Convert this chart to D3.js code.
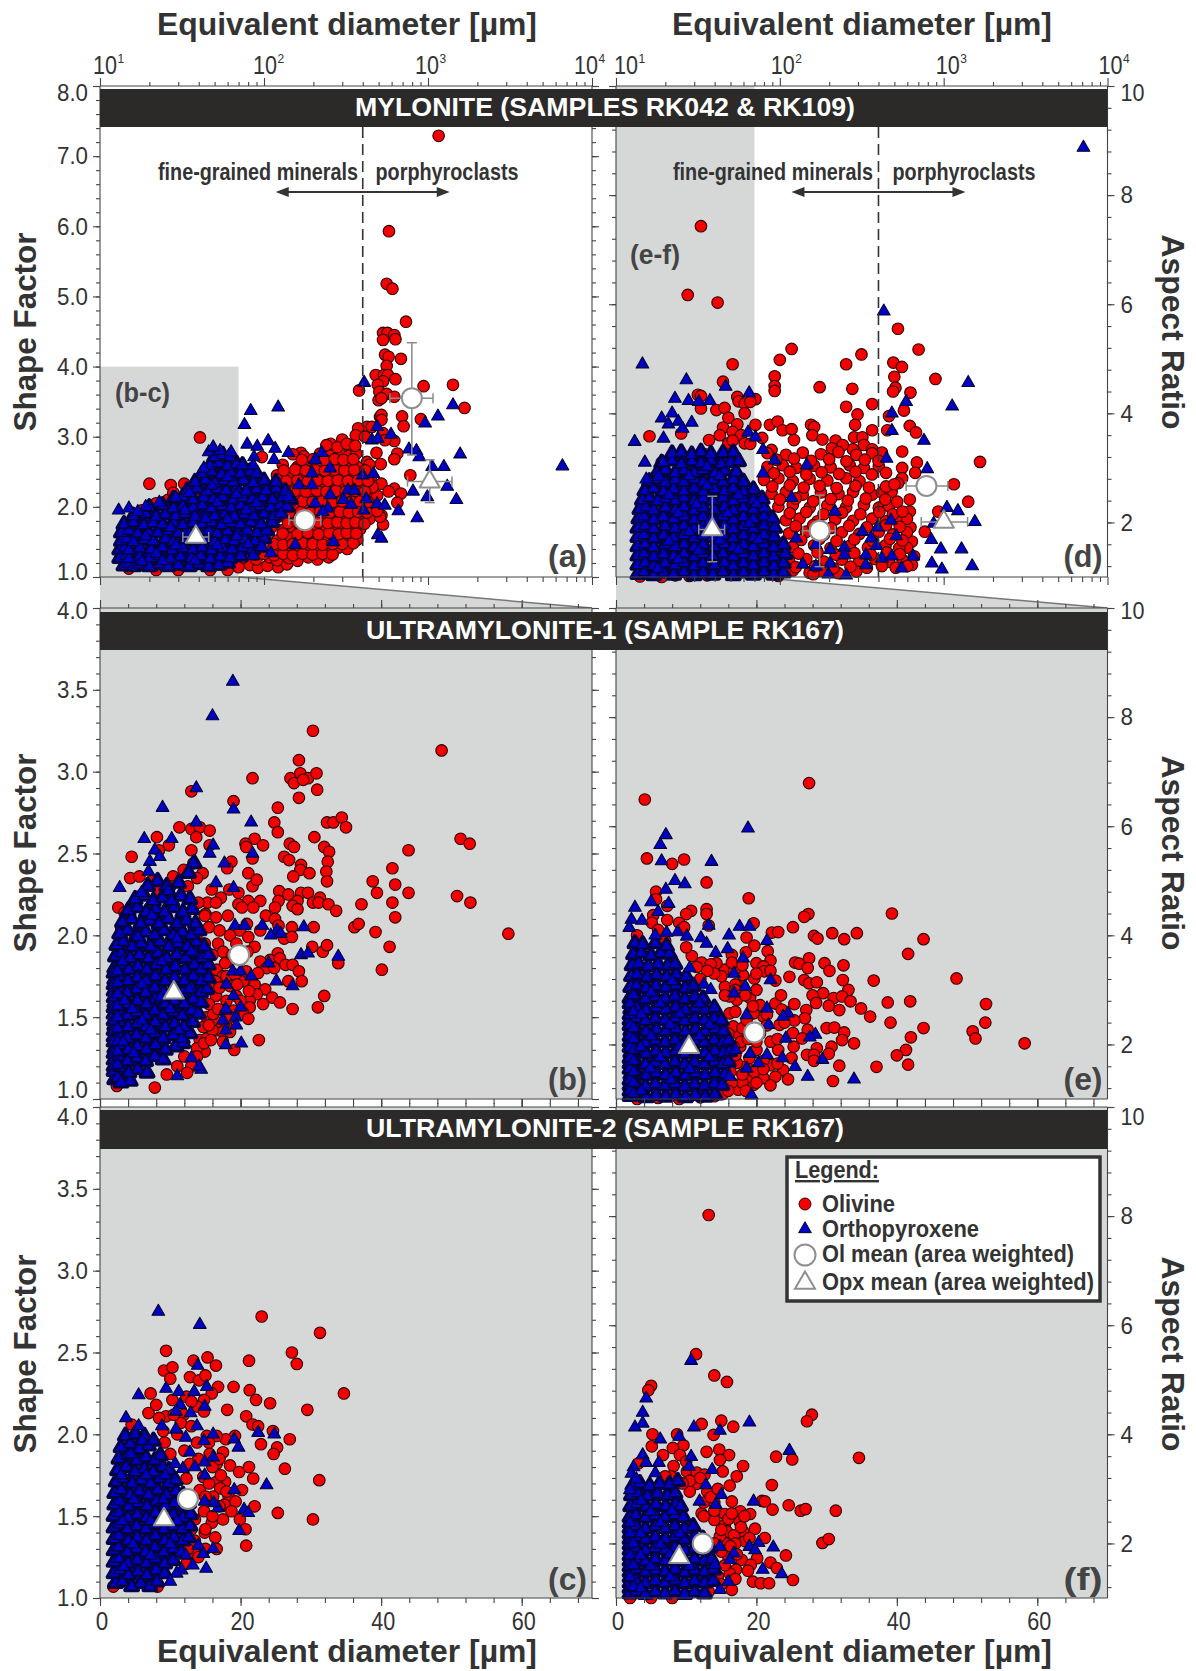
<!DOCTYPE html>
<html>
<head>
<meta charset="utf-8">
<script src="https://cdnjs.cloudflare.com/ajax/libs/d3/7.8.5/d3.min.js"></script>
<style>
  body { margin: 0; background: #fff; }
  svg { display: block; }
  text { fill: #333; font-family: "Liberation Sans", Arial, sans-serif; }
  .bold { font-weight: bold; }
  .tick line, .axisLine { stroke: #444; stroke-width: 1.1; }
  .tick text { font-size: 24.5px; fill: #333; }
</style>
</head>
<body>
<div id="chart"></div>
<script>
// panel (a) mylonite, log diameter [um] vs shape factor
var olivineA = [[1161,7.29],[578,5.93],[560,5.18],[607,5.11],[734,4.64],[532,4.48],[566,4.48],[623,4.45],[633,4.39],[532,4.38],[547,4.17],[575,4.14],[684,4.11],[560,4.01],[480,3.88],[540,3.88],[570,3.88],[532,3.79],[633,3.82],[494,3.74],[380,3.66],[940,3.72],[1420,3.74],[1670,3.41],[505,3.64],[560,3.61],[623,3.57],[500,3.52],[520,3.55],[695,3.29],[710,3.15],[905,3.25],[510,3.28],[520,3.31],[520,3.24],[425,3.14],[375,3.12],[455,3.14],[532,3.05],[623,2.94],[547,2.95],[650,2.76],[623,2.68],[485,2.77],[515,2.61],[425,2.64],[780,2.45],[520,2.33],[623,2.26],[575,2.22],[684,2.19],[650,2.06],[520,1.88],[532,1.75],[40.7,2.99],[20,2.33],[27,2.31],[32.6,2.33],[97,2.71],[168,2.77],[255,2.9],[300,2.96],[363,3.02],[413,3],
  [14,1.3],[15,1.7],[16,1.85],[18,1.95],[22,2.05],[26,2.1],[28,2.2],[35,2.1],[38,2.2],[30,1.1],[22,1.1],[47,1.1],[60,1.1],[15,1.12],
  [70,1.14],[82,1.17],[92,1.13],[105,1.16],[122,1.14],[138,1.18],
  [75,1.28],[90,1.25],[108,1.28],[120,1.24],[142,1.27],[160,1.23],[186,1.28],[212,1.25],[248,1.28],
  [92,1.4],[108,1.37],[124,1.41],[140,1.38],[163,1.42],[183,1.38],[215,1.41],[243,1.37],[285,1.42],[322,1.4],
  [102,1.55],[120,1.52],[142,1.56],[160,1.53],[187,1.57],[211,1.53],[247,1.56],[280,1.52],[327,1.56],[370,1.53],
  [110,1.7],[130,1.67],[150,1.71],[175,1.68],[200,1.72],[230,1.68],[265,1.71],[300,1.67],[345,1.72],[385,1.68],
  [120,1.85],[140,1.82],[170,1.86],[195,1.83],[225,1.87],[255,1.83],[295,1.86],[340,1.82],[380,1.87],[440,1.83],[510,1.86],
  [130,2],[155,1.97],[180,2.01],[205,1.98],[235,2.02],[270,1.98],[310,2.01],[355,1.97],[400,2.02],[450,1.98],
  [120,2.15],[140,2.12],[165,2.16],[190,2.13],[220,2.17],[255,2.13],[290,2.16],[330,2.12],[375,2.17],[425,2.13],[490,2.16],
  [125,2.3],[150,2.27],[175,2.31],[200,2.28],[230,2.32],[265,2.28],[305,2.31],[350,2.27],[400,2.32],[460,2.28],
  [120,2.45],[145,2.42],[170,2.46],[195,2.43],[225,2.47],[260,2.43],[300,2.46],[345,2.42],[395,2.47],[450,2.43],
  [130,2.6],[160,2.57],[185,2.61],[215,2.58],[245,2.62],[280,2.58],[320,2.61],[370,2.57],[440,2.6],
  [150,2.75],[175,2.72],[220,2.76],[255,2.73],[290,2.77],[330,2.73],[365,2.76],[240,2.88],[280,2.85],[320,2.9],[360,2.87],
  [88,1.32],[100,1.33],[115,1.31],[131,1.33],[150,1.31],[172,1.33],[198,1.32],[228,1.33],[262,1.32],[300,1.47],[115,1.47],[131,1.46],[150,1.47],[172,1.48],[198,1.47],[228,1.46],[262,1.47],[350,1.48],[130,1.62],[160,1.61],[185,1.63],[215,1.61],[250,1.63],[285,1.61],[320,1.63],[365,1.62],[140,1.77],[160,1.78],[185,1.77],[215,1.78],[245,1.77],[280,1.78],[320,1.77],[360,1.78],[410,1.76],[143,1.92],[168,1.93],[192,1.92],[220,1.93],[252,1.92],[290,1.93],[330,1.92],[375,1.93],[425,1.92],[490,1.94],[145,2.07],[172,2.08],[198,2.07],[228,2.08],[262,2.07],[300,2.08],[345,2.07],[385,2.08],[430,2.07],[135,2.22],[155,2.23],[180,2.22],[210,2.23],[240,2.22],[275,2.23],[315,2.22],[360,2.23],[412,2.22],[137,2.37],[160,2.38],[185,2.37],[212,2.38],[245,2.37],[282,2.38],[325,2.37],[375,2.38],[430,2.37],[132,2.52],[155,2.53],[180,2.52],[205,2.53],[235,2.52],[270,2.53],[310,2.52],[355,2.53],[415,2.52],[170,2.67],[200,2.68],[235,2.67],[270,2.68],[305,2.67],[350,2.68]];
var opxCoreA = [[14,1.16],[15,1.19],[16,1.15],[17,1.18],[20,1.15],[23,1.18],[26,1.15],[30,1.17],[35,1.15],[40,1.18],[46,1.15],[53,1.17],[60,1.2],
  [13.2,1.27],[14.5,1.3],[15,1.26],[17.5,1.29],[20,1.27],[23,1.3],[27,1.26],[31,1.29],[36,1.27],[41,1.3],[47,1.26],[54,1.29],[62,1.27],[72,1.3],
  [13.2,1.39],[14.2,1.42],[15,1.38],[17.5,1.41],[20.5,1.39],[24,1.42],[27.5,1.38],[32,1.41],[37,1.39],[42,1.42],[48,1.38],[56,1.41],[64,1.39],[74,1.42],[85,1.39],[95,1.43],
  [13.5,1.51],[14.5,1.54],[16,1.5],[18.5,1.53],[21,1.51],[25,1.54],[28,1.5],[33,1.53],[38,1.51],[44,1.54],[50,1.5],[58,1.53],[66,1.51],[76,1.54],[88,1.51],[100,1.55],
  [13.5,1.63],[15,1.66],[17,1.62],[19.5,1.65],[22.5,1.63],[26,1.66],[30,1.62],[34,1.65],[40,1.63],[46,1.66],[52,1.62],[60,1.65],[69,1.63],[79,1.66],[91,1.63],[104,1.66],
  [14,1.75],[16,1.78],[18.5,1.74],[21,1.77],[24,1.75],[28,1.78],[32,1.74],[37,1.77],[42,1.75],[48,1.78],[55,1.74],[63,1.77],[72,1.75],[83,1.78],[96,1.75],[112,1.78],
  [16,1.87],[19,1.9],[22,1.86],[25,1.89],[29,1.87],[33,1.9],[38,1.86],[44,1.89],[50,1.87],[58,1.9],[66,1.86],[76,1.89],[87,1.87],[100,1.9],[115,1.87],[125,1.92],
  [20,1.99],[24,2.02],[28,1.98],[32,2.01],[37,1.99],[42,2.02],[48,1.98],[55,2.01],[63,1.99],[72,2.02],[83,1.98],[95,2.01],[110,1.99],[125,2.02],[138,2],
  [28,2.11],[32,2.14],[37,2.1],[43,2.13],[49,2.11],[56,2.14],[65,2.1],[74,2.13],[85,2.11],[98,2.14],[113,2.1],[130,2.13],[145,2.11],
  [34,2.23],[39,2.26],[45,2.22],[52,2.25],[59,2.23],[68,2.26],[78,2.22],[90,2.25],[103,2.23],[119,2.26],[135,2.22],
  [38,2.35],[44,2.38],[50,2.34],[57,2.37],[65,2.35],[75,2.38],[86,2.34],[100,2.37],[118,2.35],
  [42,2.47],[48,2.5],[55,2.46],[63,2.49],[72,2.47],[82,2.5],[90,2.47],
  [47,2.59],[53,2.62],[60,2.58],[68,2.61],[74,2.59],[50,2.71],[56,2.74],[62,2.71],
  [18,1.22],[22,1.33],[29,1.45],[19,1.58],[35,1.6],[27,1.7],[52,1.45],[68,1.58],[44,1.83],[60,1.82],[33,1.95],[78,1.95],[52,2.06],[90,2.05],[68,2.18],[48,2.3],[60,2.42],[24,1.23],[38,1.23],[80,1.47]];
var opxSparseA = [[83,3.37],[122,3.42],[76,3.17],[79,2.89],[91,2.86],[106,2.94],[117,2.83],[141,2.77],[225,2.77],[115,2.67],[87,2.71],[86,2.59],[205,2.67],[408,3.77],[1420,3.45],[1150,3.29],[960,3.19],[490,3.14],[595,3.03],[455,2.95],[495,2.97],[765,2.82],[850,2.8],[885,2.71],[1570,2.75],[1060,2.57],[1250,2.57],[6600,2.58],[400,2.45],[465,2.47],[1310,2.29],[810,2.22],[990,2.14],[1490,2.1],[420,2.11],[490,2.04],[545,2.02],[660,1.94],[860,1.84],[495,1.6],[520,1.55],[325,2.24],[357,2.23],[305,2.1],[340,2.03],[405,1.95],[265,1.5],[253,2.17],[253,2.55],[196,2.48],[196,2.31],[205,2.05],[245,1.98],[228,1.93],[155,1.46],[110,1.34],[86,1.3],[97,1.43],[127,1.9],[141,2.14],[163,2.31],[19,2],[13,1.95],[15,1.98],[17,1.93],[23,2.06],[29,2.13],[35,2.2],[46,2.78],[54,2.8],[63,2.78],[43,2.55],[49,2.85]];

// panel (d) mylonite, log diameter [um] vs aspect ratio
var olivineD = [[33,7.43],[27.4,6.17],[41.7,6.03],[118,5.18],[100,4.98],[51.5,4.9],[45,4.58],[93,4.68],[93,4.5],[93,4.41],[315,5.08],[254,4.9],[526,5.55],[703,5.17],[493,4.93],[556,4.85],[500,4.67],[508,4.47],[491,4.4],[891,4.63],[627,4.38],[175,4.48],[277,4.45],[254,4.12],[366,4.17],[572,4.05],[464,3.95],[298,3.98],[288,3.79],[621,3.77],[678,3.65],[453,3.69],[366,3.69],[1667,3.11],[558,3.3],[686,3.1],[670,2.91],[558,3],[558,2.81],[526,2.72],[481,2.56],[1155,2.7],[1412,2.38],[927,2.2],[767,1.83],[627,1.91],[640,1.65],[597,1.54],[660,1.38],[640,1.22],[621,2.42],[621,2.2],[597,2.07],
  [16,3.58],[25,3.63],[31.6,4.34],[33,4.32],[33,4.09],[41,4.06],[46,4.1],[55,4.3],[56,4.22],[61,4.18],[71,4.26],[66,4.21],[61,4],[48.5,3.92],[55,3.8],[45,3.74],[43,3.6],[51.5,3.66],[58,3.6],[61,3.45],[48.5,3.45],[51.5,3.5],[37,3.51],[66,3.44],[71,3.79],[87,3.79],[97,3.85],[104,3.69],[118,3.71],[155,3.79],[162,3.75],[158,3.6],[182,3.52],[122,3.51],[78,3.55],[89,3.33],[284,3.56],[319,3.56],[326,3.42],[279,3.34],[366,3.34],[420,3.28],[219,3.5],[242,3.42],[208,3.36],
  [84,3.27],[109,3.24],[138,3.28],[178,3.25],[228,3.29],[293,3.24],[366,3.27],
  [84,3.02],[104,3.05],[126,3],[162,3.04],[204,3.01],[267,3.05],[326,3],[402,3.03],
  [80,2.78],[98,2.81],[120,2.76],[152,2.8],[195,2.77],[254,2.81],[306,2.76],
  [89,2.53],[109,2.56],[138,2.51],[178,2.55],[228,2.52],[280,2.56],[366,2.51],[420,2.55],
  [98,2.29],[120,2.32],[152,2.27],[195,2.31],[254,2.28],[326,2.32],[402,2.27],[464,2.3],
  [109,2.04],[132,2.07],[170,2.02],[218,2.06],[280,2.03],[366,2.07],[442,2.02],[512,2.05],
  [114,1.8],[145,1.83],[186,1.78],[239,1.82],[306,1.79],[402,1.83],[491,1.78],[597,1.82],
  [120,1.55],[162,1.58],[204,1.53],[267,1.57],[345,1.54],[442,1.58],[536,1.53],
  [114,1.3],[145,1.33],[186,1.28],[239,1.32],[306,1.29],[382,1.33],[464,1.28],[562,1.31],
  [93,1.1],[120,1.12],[152,1.08],[178,1.11],[228,1.07],[293,1.1],[14,1.01],[19,1],[23,1.03],[28,1.02],[36,1.03],[98,1.02],[160,1.05],
  [23,2.6],[28,2.3],[17,2.8],[19,3.1],[35,3.25],
  [95,3.15],[122,3.17],[155,3.13],[200,3.16],[255,3.12],[330,3.15],[400,3.13],[92,2.9],[115,2.93],[145,2.88],[180,2.92],[230,2.89],[290,2.93],[365,2.88],[445,2.91],[90,2.66],[115,2.68],[140,2.64],[175,2.67],[222,2.63],[290,2.67],[350,2.64],[445,2.66],[500,2.7],[100,2.42],[125,2.44],[160,2.39],[205,2.43],[260,2.4],[335,2.44],[440,2.42],[520,2.38],[115,2.17],[145,2.19],[185,2.15],[240,2.18],[310,2.15],[405,2.19],[490,2.15],[560,2.2],[125,1.93],[160,1.95],[205,1.9],[265,1.94],[340,1.91],[445,1.95],[540,1.92],[135,1.68],[175,1.7],[222,1.66],[285,1.69],[370,1.66],[470,1.7],[560,1.67],[130,1.43],[170,1.45],[220,1.41],[285,1.44],[360,1.41],[450,1.45],[540,1.42],[125,1.18],[165,1.2],[212,1.16],[270,1.19],[340,1.17],[420,1.2],[510,1.17],[600,1.2]];
var opxCoreD = [[13.6,1.05],[14.8,1.09],[17,1.03],[19.5,1.08],[22.5,1.04],[26,1.09],[30,1.03],[34,1.08],[39,1.04],[45,1.09],[52,1.03],[60,1.08],[69,1.04],[80,1.09],[92,1.04],[105,1.08],
  [13.6,1.22],[15,1.26],[17,1.2],[20,1.25],[23,1.21],[26,1.26],[30,1.2],[34,1.25],[40,1.21],[46,1.26],[52,1.2],[60,1.25],[69,1.21],[80,1.26],[92,1.2],[105,1.25],
  [13.6,1.39],[14.8,1.43],[17,1.37],[19.5,1.42],[22.5,1.38],[26,1.43],[30,1.37],[34,1.42],[39,1.38],[45,1.43],[52,1.37],[60,1.42],[69,1.38],[80,1.43],[92,1.37],[108,1.42],
  [13.6,1.56],[15,1.6],[17,1.54],[20,1.59],[23,1.55],[26,1.6],[30,1.54],[34,1.59],[40,1.55],[46,1.6],[52,1.54],[60,1.59],[69,1.55],[80,1.6],[92,1.54],[105,1.59],
  [13.6,1.73],[14.8,1.77],[17,1.71],[19.5,1.76],[22.5,1.72],[26,1.77],[30,1.71],[34,1.76],[39,1.72],[45,1.77],[52,1.71],[60,1.76],[69,1.72],[80,1.77],[92,1.73],
  [13.6,1.9],[15,1.94],[17,1.88],[20,1.93],[23,1.89],[26,1.94],[30,1.88],[34,1.93],[40,1.89],[46,1.94],[52,1.88],[60,1.93],[69,1.89],[80,1.94],[93,1.9],
  [13.8,2.07],[14.8,2.11],[17,2.05],[19.5,2.1],[22.5,2.06],[26,2.11],[30,2.05],[34,2.1],[39,2.06],[45,2.11],[52,2.05],[60,2.1],[69,2.06],[80,2.11],[90,2.07],
  [14,2.24],[15.2,2.28],[17,2.22],[20,2.27],[23,2.23],[26,2.28],[30,2.22],[34,2.27],[40,2.23],[46,2.28],[52,2.22],[60,2.27],[69,2.23],[80,2.26],
  [14.5,2.41],[16,2.45],[18,2.39],[20,2.44],[23,2.4],[26,2.45],[30,2.39],[34,2.44],[39,2.4],[45,2.45],[52,2.39],[60,2.44],[69,2.4],[78,2.43],
  [15,2.58],[17,2.62],[19.5,2.56],[22.5,2.61],[26,2.57],[30,2.62],[34,2.56],[40,2.61],[46,2.57],[52,2.62],[60,2.56],[69,2.6],
  [16,2.75],[18,2.79],[20,2.73],[23,2.78],[26,2.74],[30,2.79],[34,2.73],[39,2.78],[45,2.74],[52,2.78],[60,2.74],
  [18,2.92],[20,2.96],[23,2.9],[26,2.95],[30,2.91],[34,2.96],[40,2.9],[46,2.95],[54,2.92],
  [19,3.09],[22,3.13],[25,3.07],[29,3.12],[33,3.08],[38,3.13],[44,3.07],[50,3.1],[56,3.12],
  [22,3.26],[25,3.28],[29,3.24],[33,3.29],[38,3.25],[45,3.27],[52,3.28],
  [18,1.15],[24,1.32],[32,1.48],[21,1.65],[43,1.67],[28,1.83],[56,1.5],[74,1.68],[37,2],[65,1.98],[24,2.17],[48,2.17],[31,2.33],[72,2.34],[21,2.5],[56,2.5],[36,2.67],[28,2.85],[43,2.85],[36,3.02]];
var opxSparseD = [[14.5,4.9],[26.9,4.61],[46.7,4.49],[22.9,4.27],[27.7,4.23],[32,4.21],[37.4,4.23],[65,4.37],[19,3.91],[22,4],[20.9,3.8],[24,3.85],[29,3.83],[25.5,3.72],[13,3.48],[19.5,3.54],[64,3.65],[71,3.56],[15,3.1],[19.5,3.1],[15.3,2.79],[18.2,2.84],[79,3.33],[93,3.14],[146,3.05],[79,2.9],[1412,4.56],[1127,4.13],[590,4.21],[483,4],[483,3.68],[758,3.5],[448,3.17],[794,2.98],[1047,2.27],[1222,2.21],[1550,2.01],[869,1.98],[840,1.68],[961,1.51],[1285,1.51],[847,1.25],[975,1.14],[1493,1.2],[7130,8.87],[431,5.87],[118,2.45],[217,2.2],[476,2.04],[319,1.83],[361,1.71],[395,1.91],[513,1.75],[390,1.57],[248,1.54],[203,1.5],[166,1.59],[126,1.71],[335,1.4],[420,1.34],[483,1.38],[653,1.38],[335,1.22],[553,1.16],[254,1.03],[198,1.05],[166,1.19],[138,1.23],[203,1.25],[248,1.4]];

// panel (b) ultramylonite-1, diameter [um] vs shape factor
var olivineB = [[30.3,3.25],[48.6,3.13],[28.3,3.07],[21.7,2.96],[27.1,2.96],[28.5,2.99],[29.6,2.96],[30.8,2.99],[27.6,2.93],[28.9,2.95],[30.9,2.89],[28.3,2.84],[19,2.82],[13,2.88],[25.3,2.78],[24.8,2.69],[25.3,2.63],[11.3,2.66],[13,2.65],[14.2,2.66],[15.6,2.64],[13.7,2.6],[8.1,2.6],[32.3,2.69],[33.2,2.69],[34.4,2.72],[35,2.66],[30.5,2.6],[31.9,2.54],[32.6,2.51],[32.4,2.45],[32.2,2.39],[32.3,2.33],[22,2.59],[20.7,2.56],[20.8,2.54],[23.2,2.55],[27,2.56],[27.6,2.54],[26.2,2.48],[26.9,2.46],[28.6,2.43],[28.5,2.4],[29.8,2.38],[27.5,2.36],[43.9,2.52],[41.6,2.41],[38.8,2.33],[42,2.31],[39.4,2.26],[43.9,2.26],[41.6,2.2],[37.2,2.19],[42,2.11],[36.2,2.05],[36.8,2.07],[39.2,2.02],[41.2,1.93],[40.1,1.79],[51.3,2.59],[52.6,2.56],[50.8,2.24],[52.7,2.2],[58.1,2.01],[4.5,2.48],[4.3,2.35],[5.6,2.36],[7.3,2.33],[13,2.52],[9.8,2.55],[8.4,2.52],[14.6,2.38],[15.6,2.55],[18.7,2.45],[18.1,2.41],[21.1,2.38],[21.7,2.47],[21.7,2.3],[22.3,2.34],[15.9,2.28],[17.2,2.23],[18.4,2.28],[19.7,2.26],[21.1,2.21],[19.7,2.19],[20.2,2.17],[22.8,2.21],[21.8,2.17],[25.5,2.27],[26.8,2.25],[28.6,2.26],[29.6,2.26],[25.4,2.21],[28.1,2.21],[30.3,2.2],[31.3,2.23],[31.1,2.2],[32.5,2.19],[33.6,2.15],[27.4,2.18],[28.1,2.16],[24.9,2.17],[2.6,2.17],[3.5,2.14],[16.5,2.11],[15,2.13],[15.3,2.2],[23.6,2.12],[24.9,2.1],[25.4,2.06],[27.3,2.05],[30.4,2.05],[26.2,1.98],[27.3,1.99],[22.8,2.03],[20.9,2.07],[19.9,2.03],[18.5,2],[21.1,1.99],[22,1.93],[30.2,1.93],[31.7,1.9],[32.3,1.94],[33.9,1.83],[25.3,1.89],[24.2,1.85],[22.8,1.84],[25.6,1.86],[23.7,1.8],[24.8,1.8],[26.4,1.82],[27.4,1.82],[28.3,1.78],[28.7,1.72],[26.8,1.72],[20.6,1.72],[22,1.7],[23.5,1.67],[31.9,1.63],[24.5,1.62],[25.6,1.59],[23.2,1.58],[27.4,1.55],[31,1.56],[22.3,1.64],[21.3,1.6],[21.3,1.56],[20.3,1.53],[21.1,1.49],[19,1.51],[17.9,1.46],[16.6,1.42],[17.5,1.41],[15.6,1.43],[22.6,1.36],[19.1,1.3],[14.9,1.29],[12,1.26],[7.8,1.07],[2.4,1.08],
  [14.7,1.81],[15.6,1.78],[16.6,1.79],[17.5,1.75],[16.4,1.72],[18.5,1.69],[19.4,1.63],[18,1.6],[20.4,1.72],[17.5,1.54],[19,1.54],[15.2,1.5],[16.6,1.47],[14.7,1.44],[14.2,1.36],[13.8,1.31],[15.2,1.37],[16.1,1.52],[18.3,1.84],[16.8,1.95],[19.4,1.95],[14.9,1.95],[13.7,1.99],[14.9,2.12],[11.9,2.4],[10.4,2.36],[13.8,2.35],[13.3,2.44],[20,1.85],[18,1.75],[17.5,1.9],
  [15.5,2.05],[17,2.03],[18.2,2.12],[16,1.88],[17.8,1.83],[19.2,1.76],[20.8,1.78],[18.8,1.88],[21,1.9],[22.5,1.77],[16.5,1.63],[15.4,1.7],[17,1.68],[19.5,1.7],[21.2,1.66],[20,1.6],[15.5,1.58],[16.8,1.55],[18.5,1.5],[16,1.42],[18.5,1.41],[14.8,1.34],[15.8,1.36],[13.8,1.26],[13,1.2],[12.4,1.16],[11,1.2],[9.5,1.15],[14,2.2],[16.5,2.2],[12.5,2.3],[10,2.3],[8.2,2.28],[6,2.25],[3,2.05],[15.5,1.45],[17.5,1.35]];
var opxCoreB = [[2.1,1.12],[3,1.1],[4.3,1.11],
  [2,1.17],[2.8,1.19],[4.1,1.16],[5.4,1.18],[6.7,1.16],
  [2,1.24],[2.6,1.26],[3.9,1.23],[5.2,1.25],[6.5,1.23],[7.8,1.26],[9,1.24],
  [2.1,1.31],[2.7,1.33],[4,1.3],[5.3,1.32],[6.6,1.3],[7.9,1.33],[9.3,1.3],[10.8,1.32],[11.8,1.34],
  [2,1.38],[2.6,1.4],[3.9,1.37],[5.2,1.39],[6.5,1.37],[7.8,1.4],[9,1.37],[10.4,1.39],[11.7,1.37],[12.8,1.4],
  [2.1,1.45],[2.7,1.47],[4,1.44],[5.3,1.46],[6.6,1.44],[7.9,1.47],[9.3,1.44],[10.6,1.46],[12,1.44],[13.2,1.47],
  [2,1.52],[2.6,1.54],[3.9,1.51],[5.2,1.53],[6.5,1.51],[7.8,1.54],[9,1.51],[10.4,1.53],[11.7,1.51],[13,1.54],[14,1.52],
  [2.1,1.59],[2.7,1.61],[4,1.58],[5.3,1.6],[6.6,1.58],[7.9,1.61],[9.3,1.58],[10.6,1.6],[12,1.58],[13.3,1.61],[14.4,1.59],
  [2,1.66],[2.6,1.68],[3.9,1.65],[5.2,1.67],[6.5,1.65],[7.8,1.68],[9,1.65],[10.4,1.67],[11.7,1.65],[13,1.68],[14.3,1.65],[15.2,1.67],
  [2.1,1.73],[2.7,1.75],[4,1.72],[5.3,1.74],[6.6,1.72],[7.9,1.75],[9.3,1.72],[10.6,1.74],[12,1.72],[13.3,1.75],[14.4,1.72],[15.4,1.74],
  [2.1,1.8],[2.8,1.82],[4.1,1.79],[5.4,1.81],[6.7,1.79],[8,1.82],[9.4,1.79],[10.7,1.81],[12.1,1.79],[13.4,1.82],[14.4,1.79],[15.4,1.82],
  [2.2,1.87],[3,1.89],[4.3,1.86],[5.6,1.88],[6.9,1.86],[8.2,1.89],[9.5,1.86],[10.9,1.88],[12.2,1.86],[13.5,1.89],[14.6,1.86],[15.4,1.88],
  [2.4,1.94],[3.3,1.96],[4.6,1.93],[5.9,1.95],[7.2,1.93],[8.5,1.96],[9.8,1.93],[11.1,1.95],[12.4,1.93],[13.7,1.96],[14.8,1.93],
  [2.8,2.01],[3.9,2.03],[5.2,2],[6.5,2.02],[7.8,2],[9.1,2.03],[10.4,2],[11.7,2.02],[13,2],[14.1,2.03],
  [3.2,2.08],[4.5,2.1],[5.8,2.07],[7.1,2.09],[8.4,2.07],[9.7,2.1],[11,2.07],[12.3,2.09],[13.6,2.07],
  [4,2.15],[5.3,2.17],[6.6,2.14],[7.9,2.16],[9.2,2.14],[10.5,2.17],[11.8,2.14],[13.1,2.16],
  [5,2.22],[6.3,2.24],[7.6,2.21],[8.9,2.23],[10.2,2.21],[11.5,2.24],[12.8,2.22],
  [6.8,2.3],[8.2,2.33],[9.5,2.3],[11.2,2.32],[12.6,2.38],[13.4,2.44],
  [2,1.2],[2,1.28],[2,1.35],[2,1.42],[2,1.48],[2,1.56],[2,1.62],[2,1.7],[2,1.77],[2.5,1.13],[2.5,1.21],[2.5,1.29],[2.5,1.35],[2.5,1.43],[2.5,1.5],[2.5,1.57],[2.5,1.64],[2.5,1.71],[2.5,1.78],
  [3.3,1.35],[7.2,1.42],[4.6,1.55],[10,1.55],[6,1.7],[12.7,1.67],[3.2,1.84],[8.8,1.84],[5.4,1.99],[11,1.98],[7.4,2.12],[9.7,2.27],[4.8,1.28],[6,1.48],[8.6,1.62],[11.2,1.42],[3.5,1.6],[13,1.9]];
var opxSparseB = [[18.9,3.55],[16,3.34],[13.7,2.9],[8.9,2.78],[19,2.77],[21.5,2.69],[13.7,2.69],[6.3,2.59],[10.2,2.59],[16.1,2.55],[7.8,2.52],[15.6,2.5],[21.7,2.5],[8.5,2.48],[7.1,2.45],[13.3,2.44],[17.7,2.44],[6.9,2.39],[2.8,2.29],[5.9,2.26],[19,2.29],[16.5,2.32],[19.2,2.06],[20.6,2.06],[23.1,2.06],[25.2,2.03],[29,2.05],[24.3,2],[25.7,2.01],[28.6,1.88],[29.6,1.89],[33.9,1.87],[24,1.83],[25.1,1.72],[27.4,1.69],[18.9,1.78],[20,1.78],[21.5,1.75],[18,1.7],[19,1.63],[20,1.56],[19.3,1.5],[17.9,1.54],[17.5,1.48],[17.9,1.55],[19.4,1.45],[17.9,1.42],[17.9,1.33],[20.1,1.34],[13,1.25],[14.4,1.18],[11,1.14],[14.1,1.2],[3,1.1]];

// panel (e) ultramylonite-1, diameter [um] vs aspect ratio
var olivineE = [[27.5,6.79],[4.1,6.49],[4.4,5.41],[9.7,5.39],[8,5.31],[12.9,4.97],[5.7,4.8],[5.7,4.66],[18.9,4.68],[39.3,4.4],[27.4,4.39],[26.8,4.34],[12.9,4.48],[12.9,4.39],[10.7,4.45],[10,4.39],[7.3,4.54],[7.3,4.28],[19.6,4.22],[13.2,4.18],[9,4.23],[9.7,4.15],[5.3,4.37],[5.1,4.23],[25.2,4.15],[22.2,4.05],[23.1,4.06],[18.6,3.96],[28.2,3.99],[28.7,3.94],[30.8,4.04],[32.5,3.93],[34.3,4.04],[43.8,3.93],[41.6,3.66],[19.7,3.81],[21.6,3.71],[18.5,3.69],[22,3.54],[20,3.49],[21,3.43],[21.1,3.34],[25.5,3.5],[26.1,3.48],[27.5,3.58],[27.3,3.4],[29.7,3.49],[30.4,3.35],[32.4,3.45],[36.7,3.17],[48.5,3.21],[24.7,3.24],[22.7,3.17],[19.7,3.21],[18.1,3.27],[26.8,3.18],[27.5,3.12],[28.6,3.14],[32.3,3.18],[33.1,3],[29.5,2.94],[28,2.9],[28.5,2.76],[25.4,2.74],[22.7,2.75],[20.5,2.72],[31,2.85],[32.2,2.88],[33.4,2.79],[30.3,2.71],[34.9,2.66],[31.8,2.63],[27.1,2.63],[23.6,2.64],[26.9,2.48],[36.2,2.51],[38.7,2.77],[41.9,2.79],[52.7,2.74],[52.6,2.4],[39.1,2.4],[43.8,2.3],[50.8,2.24],[51.2,2.11],[58.2,2.02],[42,2.13],[41.3,1.9],[40,1.8],[41.6,1.63],[37.1,1.59],[31.8,1.61],[30.9,1.33],[33.9,2.02],[30,2.3],[31.1,2.31],[32.5,2.22],[32.2,2.08],[30.7,1.96],[28.6,1.93],[27.2,1.81],[28.2,1.81],[28.2,1.7],[30.3,1.83],[27.3,2.27],[25.4,2.44],[23.3,2.36],[25.2,2.21],[26.5,2.11],[25.3,1.96],[23.1,1.9],[22,2.05],[21,2.51],[19.6,2.57],[23.8,1.53],[24.5,1.36],[22.7,1.41],[21,1.38],[19.6,1.26],[17.4,1.17],[15.2,1.09],[19,1.41],[22,1.62],[20,1.9],[17.7,1.96],[18.6,1.6],[17.2,1.66],[17.4,2.2],[16.2,2.57],[15.5,3.06],[15.5,3.37],[14.3,3.49],[12.2,3.5],[13.5,3.47],[10.8,3.62],[10,3.78],[16.5,3.64],[17.2,2.82],[19.1,2.85],[16.2,2.88],[18.1,3.06],[20,3],[16.7,2.33],[3,4],[2.5,3.6],[7,3.9],[6,4.1],[17,3.1],[16,2.2],[15,1.3],[18,2.3],[20.5,2.2],[18,1.3],[3,1],[6,1.02],[9,1],[12,1.03],
  [15.5,2.9],[17,3],[18.4,2.9],[19.5,2.7],[17,2.6],[18.6,2.45],[17.8,2.05],[16.8,1.95],[18.8,2.1],[20,2.05],[21.5,2.35],[19,1.75],[21,1.7],[19.7,1.5],[18,1.45],[16.5,1.3],[16.3,1.5],[17,1.8],[15,3.25],[16.8,3.35],[14,3.3],[13,3.35],[11.5,3.42],[12,3.2],[16.5,3.5],[18,3.45],[20,3.3],[22,3.35],[23.5,2.9],[21.5,2.55],[24,2.4],[23,2.1],[21,1.55],[23,1.65],[20,1.3],[22,1.25],[25,1.75],[16,1.15],[18.5,1.15],[14,1.05]];
var opxCoreE = [[2,1.05],[2.9,1.08],[4.3,1.03],[5.7,1.07],[7.1,1.04],[8.5,1.08],[9.9,1.03],[11.3,1.07],[12.7,1.04],[14.1,1.08],
  [2,1.25],[2.8,1.28],[4.2,1.23],[5.6,1.27],[7,1.24],[8.4,1.28],[9.8,1.23],[11.2,1.27],[12.6,1.24],[14,1.28],[15.1,1.25],
  [2.1,1.45],[2.9,1.48],[4.3,1.43],[5.7,1.47],[7.1,1.44],[8.5,1.48],[9.9,1.43],[11.3,1.47],[12.7,1.44],[14.1,1.48],[15.5,1.45],
  [2,1.65],[2.8,1.68],[4.2,1.63],[5.6,1.67],[7,1.64],[8.4,1.68],[9.8,1.63],[11.2,1.67],[12.6,1.64],[14,1.68],[15.2,1.64],[16,1.68],
  [2.1,1.85],[2.9,1.88],[4.3,1.83],[5.7,1.87],[7.1,1.84],[8.5,1.88],[9.9,1.83],[11.3,1.87],[12.7,1.84],[14.1,1.88],[15.3,1.84],[16.2,1.87],
  [2,2.05],[2.8,2.08],[4.2,2.03],[5.6,2.07],[7,2.04],[8.4,2.08],[9.8,2.03],[11.2,2.07],[12.6,2.04],[14,2.08],[15.2,2.04],[16,2.07],
  [2.1,2.25],[2.9,2.28],[4.3,2.23],[5.7,2.27],[7.1,2.24],[8.5,2.28],[9.9,2.23],[11.3,2.27],[12.7,2.24],[14.1,2.28],[15.3,2.24],
  [2,2.45],[2.8,2.48],[4.2,2.43],[5.6,2.47],[7,2.44],[8.4,2.48],[9.8,2.43],[11.2,2.47],[12.6,2.44],[14,2.48],[15,2.44],
  [2.1,2.65],[2.9,2.68],[4.3,2.63],[5.7,2.67],[7.1,2.64],[8.5,2.68],[9.9,2.63],[11.3,2.67],[12.7,2.64],[14,2.67],
  [2,2.85],[2.8,2.88],[4.2,2.83],[5.6,2.87],[7,2.84],[8.4,2.88],[9.8,2.83],[11.2,2.87],[12.4,2.84],
  [2.1,3.05],[2.9,3.08],[4.3,3.03],[5.7,3.07],[7.1,3.04],[8.5,3.08],[9.9,3.03],[11,3.07],
  [2.2,3.25],[3,3.28],[4.4,3.23],[5.8,3.27],[7.2,3.24],[8.6,3.28],[10,3.24],
  [2.3,3.45],[3.2,3.48],[4.6,3.43],[6,3.47],[7.4,3.44],[8.4,3.47],
  [2.5,3.65],[3.6,3.68],[5,3.63],[6.4,3.67],[7.6,3.66],[2.7,3.85],[3.8,3.83],[5.6,3.85],[7.2,3.8],
  [2,1.15],[2,1.35],[2,1.55],[2,1.75],[2,1.95],[2,2.15],[2,2.35],[2,2.55],[2,2.75],[2.5,1.1],[2.5,1.3],[2.5,1.5],[2.5,1.7],[2.5,1.9],[2.5,2.1],[2.5,2.3],[2.5,2.6],[2.5,2.9],
  [3.6,1.15],[7.8,1.35],[4.9,1.56],[10.5,1.55],[6.3,1.76],[13.3,1.76],[3.5,1.95],[9,1.96],[5,2.15],[11.9,2.15],[7.7,2.36],[13.3,2.36],[3.6,2.55],[9.1,2.56],[6.3,2.75],[11.9,2.75],[5,2.95],[8,3.16]];
var opxSparseE = [[7.1,5.84],[6.3,5.66],[6.5,5.36],[13.6,5.35],[18.8,5.96],[8.4,5],[9.8,4.94],[7.1,4.84],[5,4.61],[2.7,4.51],[7.5,4.58],[6,4.43],[2.2,4.29],[3.7,4.27],[1.9,4.14],[8.8,4.06],[7.2,4.05],[5.6,4],[10.1,3.98],[12.1,3.95],[13.2,4.18],[17.6,4.16],[19,4.16],[16.1,4],[21.5,3.9],[12.9,3.85],[15.9,3.75],[14.2,3.68],[18.1,3.58],[16.8,3.3],[22,3.18],[18.4,3.06],[16.8,2.94],[21.5,2.66],[24.5,2.57],[23.8,2.51],[21.7,2.36],[18.6,2.54],[24.2,2.11],[28.4,2.18],[27.6,2.13],[19.1,1.83],[21.5,1.81],[23.7,1.75],[25.5,1.59],[29.4,1.72],[20.3,1.66],[18.6,1.56],[27.3,1.41],[33.9,1.36],[19.3,1.07],[16.2,1.41],[17,1.9],[10.5,3.4],[12.5,3.1],[13.5,3]];

// panel (c) ultramylonite-2, diameter [um] vs shape factor
var olivineC = [[23,2.72],[31.3,2.62],[9.4,2.51],[27.3,2.5],[28,2.43],[13.3,2.45],[15.3,2.47],[21.2,2.45],[16.5,2.42],[9.1,2.39],[10.3,2.41],[10,2.34],[12.8,2.35],[14.1,2.33],[15,2.36],[16.8,2.29],[19,2.29],[7.2,2.25],[21.3,2.27],[34.7,2.25],[22.2,2.21],[24.2,2.19],[15.9,2.25],[12.3,2.23],[10.3,2.21],[14.8,2.21],[13.8,2.17],[14.8,2.14],[18.1,2.15],[29.5,2.15],[6.9,2.13],[9.4,2.11],[8.4,2.1],[11.9,2.12],[11.5,2.07],[20.8,2.11],[21.7,2.06],[22.5,2.05],[24.6,2.02],[27,1.97],[19.2,1.99],[17.9,1.97],[16.6,1.99],[15.2,1.99],[13.8,1.95],[22.9,1.94],[25.2,1.92],[24.7,1.88],[17.5,1.89],[15.6,1.88],[18.5,1.81],[19.8,1.77],[21.2,1.8],[26.3,1.79],[21.8,1.73],[31.2,1.72],[17.8,1.71],[16.6,1.71],[17.1,1.67],[20.2,1.66],[18.3,1.62],[19.3,1.59],[17.7,1.57],[22,1.56],[18.7,1.53],[19.9,1.48],[25.3,1.52],[30.3,1.48],[14.8,1.53],[17.5,1.48],[15.9,1.46],[14.9,1.4],[16.4,1.37],[20.7,1.42],[20.8,1.32],[16.6,1.3],[13.5,1.27],[12.3,1.21],[1.9,1.07],[8.2,1.07],[14.2,1.64],[16.1,1.62],[14.7,1.74],[16.6,1.82],[4.5,2.06],[9.2,1.95],[12.8,1.82],[14.2,1.66],[10,1.88],[12.3,1.73],[5.7,1.98],[16,1.8],[15,1.42],[17,1.56],[13.5,1.35],
  [13,1.6],[15,1.62],[15.5,1.7],[17.2,1.75],[16,1.5],[13.5,1.48],[15,1.3],[13,1.42],[14,1.85],[15.5,1.95],[12,1.9],[13,2.05],[11,2],[9,2.02],[8,2.18],[10.5,2.12],[13,2.2],[17,1.85],[18,1.65],[14,1.25],[12.5,1.3]];
var opxCoreC = [[2.2,1.09],[3.2,1.1],[4.5,1.07],[5.8,1.09],[7.1,1.07],[8.1,1.1],
  [2,1.15],[2.8,1.17],[4.1,1.14],[5.4,1.16],[6.7,1.14],[8,1.17],[9.2,1.15],
  [2,1.22],[2.7,1.24],[4,1.21],[5.3,1.23],[6.6,1.21],[7.9,1.24],[9.2,1.21],[10.4,1.23],
  [2,1.29],[2.6,1.31],[3.9,1.28],[5.2,1.3],[6.5,1.28],[7.8,1.31],[9.1,1.28],[10.4,1.3],[11.5,1.28],
  [2,1.36],[2.7,1.38],[4,1.35],[5.3,1.37],[6.6,1.35],[7.9,1.38],[9.2,1.35],[10.5,1.37],[11.8,1.35],[12.6,1.37],
  [2,1.43],[2.6,1.45],[3.9,1.42],[5.2,1.44],[6.5,1.42],[7.8,1.45],[9.1,1.42],[10.4,1.44],[11.7,1.42],[12.8,1.44],
  [2,1.5],[2.7,1.52],[4,1.49],[5.3,1.51],[6.6,1.49],[7.9,1.52],[9.2,1.49],[10.5,1.51],[11.8,1.49],[12.9,1.51],
  [2.1,1.57],[2.8,1.59],[4.1,1.56],[5.4,1.58],[6.7,1.56],[8,1.59],[9.3,1.56],[10.6,1.58],[11.9,1.56],[12.6,1.58],
  [2.1,1.64],[3,1.66],[4.3,1.63],[5.6,1.65],[6.9,1.63],[8.2,1.66],[9.5,1.63],[10.8,1.65],[11.8,1.63],
  [2.3,1.71],[3.3,1.73],[4.6,1.7],[5.9,1.72],[7.2,1.7],[8.5,1.73],[9.8,1.7],[10.7,1.72],
  [2.5,1.78],[3.7,1.8],[5,1.77],[6.3,1.79],[7.6,1.77],[8.9,1.8],[9.8,1.78],
  [2.7,1.85],[3.9,1.87],[5.2,1.84],[6.5,1.86],[7.8,1.84],[8.6,1.87],
  [3,1.92],[4.3,1.94],[5.6,1.91],[6.9,1.93],[7.6,1.96],[3.6,1.99],[5,2],[6.3,1.99],
  [3.4,1.19],[7.2,1.26],[4.7,1.33],[10,1.33],[3.2,1.47],[7.2,1.47],[11,1.47],[4.8,1.6],[9,1.6],[3,1.75],[6.6,1.75],[9.3,1.75],[4.4,1.88],[6,1.96]];
var opxSparseC = [[8.3,2.75],[14.2,2.67],[13.9,2.42],[5.5,2.24],[9.4,2.28],[11.2,2.26],[13.4,2.26],[15.2,2.29],[14.9,2.17],[11.4,2.18],[10.8,2.14],[12.9,2.13],[3.7,2.1],[13.8,2.05],[8.8,2.05],[16.1,2],[5.5,2.05],[22.5,2.01],[24.8,2],[19.1,1.97],[19.7,1.92],[14.8,1.96],[10.8,2.03],[12.2,1.98],[12.8,1.89],[14.9,1.83],[16.1,1.86],[13.5,1.8],[11.8,1.79],[10.7,1.82],[14.9,1.75],[23.7,1.69],[19.1,1.66],[20.5,1.54],[21.1,1.52],[19.8,1.41],[16.8,1.55],[16.2,1.58],[14.9,1.59],[16.1,1.3],[14.7,1.27],[14,1.32],[12.2,1.26],[15.1,1.18],[13.2,1.2],[11.6,1.17],[10.9,1.15],[10,1.1]];

// panel (f) ultramylonite-2, diameter [um] vs aspect ratio
var olivineF = [[13.2,8.02],[11.4,5.47],[14,5.08],[15.8,4.96],[5,4.89],[4.6,4.81],[27.9,4.36],[27.2,4.24],[12.2,4.19],[15,4.25],[16.7,4.14],[5.2,4],[8.7,4],[13.9,3.99],[5.1,3.78],[9.6,3.8],[8.1,3.75],[12.9,3.68],[14.7,3.72],[6.7,3.62],[9.1,3.62],[16.1,3.62],[14.8,3.53],[22.8,3.59],[25.1,3.54],[34.6,3.57],[18.1,3.42],[8.2,3.42],[15.2,3.32],[10.1,3.32],[11.5,3.3],[12.6,3.26],[7.8,3.23],[17.2,3.23],[22.2,3.07],[16.2,3.06],[11.4,3.09],[10.5,2.95],[16.5,2.77],[20.8,2.78],[21.2,2.77],[24.6,2.7],[22.3,2.62],[26.3,2.6],[27,2.63],[31.3,2.6],[19.1,2.54],[15.5,2.54],[12.2,2.55],[17.7,2.59],[14,2.43],[17.6,2.4],[19.8,2.27],[15.5,2.34],[15.8,2.22],[18.1,2.22],[16.8,2.15],[18.4,2.04],[21.2,2.1],[29.4,2.01],[30.3,2.08],[24.2,1.78],[20.1,1.73],[17.9,1.7],[22,1.65],[19.2,1.61],[22.9,1.55],[25.2,1.33],[19.5,1.3],[20.6,1.27],[21.8,1.27],[17.1,1.52],[16.2,1.45],[16.5,1.15],[13.2,1.12],[15.5,2.01],[14.8,2.13],[3.2,3.47],[7,3.23],[11.5,1.33],[14,2.75],[13,2.95],[17,2],[16,1.75],[2,1],[5,1],[8,1],[12.5,2.5],[10,3.5],
  [14,2],[15,1.85],[16.3,1.95],[17.2,1.8],[15.5,1.6],[14.5,1.4],[15,1.25],[13.5,1.3],[17,1.35],[18.8,1.5],[17.8,2.3],[19,2.1],[16,2.45],[14,2.6],[12.5,2.75],[13.5,2.85],[14.5,3],[10.5,3.15],[12,3.2],[9.5,3.1],[15,2.25],[16.5,2.55],[18.3,2.5]];
var opxCoreF = [[2,1.08],[2.8,1.12],[4.2,1.07],[5.6,1.11],[7,1.08],[8.4,1.12],[9.8,1.07],[11.2,1.11],[12.6,1.08],
  [2,1.28],[2.8,1.32],[4.2,1.27],[5.6,1.31],[7,1.28],[8.4,1.32],[9.8,1.27],[11.2,1.31],[12.6,1.28],[13.8,1.31],
  [2,1.48],[2.8,1.52],[4.2,1.47],[5.6,1.51],[7,1.48],[8.4,1.52],[9.8,1.47],[11.2,1.51],[12.6,1.48],[13.9,1.52],
  [2,1.68],[2.8,1.72],[4.2,1.67],[5.6,1.71],[7,1.68],[8.4,1.72],[9.8,1.67],[11.2,1.71],[12.6,1.68],[13.6,1.71],
  [2,1.88],[2.8,1.92],[4.2,1.87],[5.6,1.91],[7,1.88],[8.4,1.92],[9.8,1.87],[11.2,1.91],[12.6,1.88],[13.4,1.92],
  [2,2.08],[2.8,2.12],[4.2,2.07],[5.6,2.11],[7,2.08],[8.4,2.12],[9.8,2.07],[11.2,2.11],[12.4,2.08],
  [2,2.28],[2.8,2.32],[4.2,2.27],[5.6,2.31],[7,2.28],[8.4,2.32],[9.8,2.27],[11,2.31],
  [2,2.48],[2.8,2.52],[4.2,2.47],[5.6,2.51],[7,2.48],[8.4,2.52],[9.6,2.48],
  [2.1,2.68],[2.9,2.72],[4.3,2.67],[5.7,2.71],[7.1,2.68],[8.5,2.72],[9.2,2.68],
  [2.2,2.88],[3.1,2.92],[4.5,2.87],[5.9,2.91],[7.3,2.88],[8.4,2.92],
  [2.4,3.06],[3.4,3.1],[4.8,3.05],[6.2,3.09],[7.6,3.08],[8.8,3.14],
  [2,1.18],[2,1.38],[2,1.58],[2,1.78],[2,1.98],[2,2.18],[2,2.38],[2.5,1.2],[2.5,1.6],[2.5,2],
  [3.5,1.18],[7.7,1.38],[4.9,1.58],[10.5,1.58],[3.5,1.78],[7.7,1.8],[6.3,1.98],[12,1.98],[3.5,2.18],[9.1,2.18],[6.3,2.38],[4.9,2.58],[8,2.6],[3.6,2.78]];
var opxSparseF = [[10.7,5.35],[4.3,4.66],[3.8,4.4],[3.8,4.2],[2.7,4.13],[11.1,4.13],[14.8,4.07],[19,4.22],[6.3,3.91],[9,3.96],[24.7,3.7],[10.7,3.59],[3.8,3.62],[4.3,3.48],[2.5,3.4],[6.1,3.48],[10.4,3.41],[13.7,3.35],[2.2,3.28],[5.6,3.29],[2.9,3.18],[2,2.98],[12.8,3.07],[15,2.89],[11.9,2.77],[14.2,2.71],[19.6,2.77],[19,1.94],[20.3,2.01],[19.8,1.88],[22.4,1.93],[16.8,1.82],[16.2,1.7],[20.9,1.52],[23.6,1.44],[16,1.3],[14.8,1.15],[14.8,1.94],[14.1,1.61]];

// means: [x, y, xLow, xHigh, yLow, yHigh], null where the bar hides under the symbol
var olMeans = { a: [[797,3.55,586,1073,2.74,4.34],[177,1.81,142,222,null,null]],
  d: [[785,2.67,590,1062,null,null],[175,1.85,138,218,1.19,2.5]],
  b: [[19.8,1.88,null,null,null,null]], e: [[19.7,2.22,null,null,null,null]],
  c: [[12.5,1.605,null,null,null,null]], f: [[12.35,2,null,null,null,null]] };
var opxMeans = { a: [[1024,2.36,750,1400,2.06,2.67],[38.4,1.57,32,46,null,null]],
  d: [[1002,2.01,729,1400,null,null],[38.7,1.87,32,46,1.28,2.48]],
  b: [[10.5,1.65,null,null,null,null]], e: [[10.4,1.95,null,null,null,null]],
  c: [[9.1,1.48,null,null,null,null]], f: [[9,1.75,null,null,null,null]] };

var bandTitles = ["MYLONITE (SAMPLES RK042 & RK109)", "ULTRAMYLONITE-1 (SAMPLE RK167)", "ULTRAMYLONITE-2 (SAMPLE RK167)"];
var legendItems = ["Olivine", "Orthopyroxene", "Ol mean (area weighted)", "Opx mean (area weighted)"];
var porphyroclastLimit = 400;
var insetLimit = 70;
var logMajor = [10, 100, 1000, 10000];
var logMinor = [20,30,40,50,60,70,80,90,200,300,400,500,600,700,800,900,2000,3000,4000,5000,6000,7000,8000,9000];
var linMajor = [0, 20, 40, 60];
var linMinor = d3.range(0, 71, 4);

var width = 1196, height = 1671;
var colL = [100, 592], colR = [616, 1107.5];
var rows = [[86, 577], [608, 1099], [1107, 1598]];
var bands = [[89, 127], [612, 650], [1110, 1149]];

var svg = d3.select("#chart").append("svg").attr("width", width).attr("height", height);
var triangle = d3.symbol().type(d3.symbolTriangle);

var panels = [
  { id: "a", col: colL, row: 0, log: true, sf: true, ol: olivineA, core: opxCoreA, sparse: opxSparseA, note: "(a)", noteY: 567 },
  { id: "d", col: colR, row: 0, log: true, sf: false, ol: olivineD, core: opxCoreD, sparse: opxSparseD, note: "(d)", noteY: 567 },
  { id: "b", col: colL, row: 1, log: false, sf: true, ol: olivineB, core: opxCoreB, sparse: opxSparseB, note: "(b)", noteY: 1090 },
  { id: "e", col: colR, row: 1, log: false, sf: false, ol: olivineE, core: opxCoreE, sparse: opxSparseE, note: "(e)", noteY: 1090 },
  { id: "c", col: colL, row: 2, log: false, sf: true, ol: olivineC, core: opxCoreC, sparse: opxSparseC, note: "(c)", noteY: 1590 },
  { id: "f", col: colR, row: 2, log: false, sf: false, ol: olivineF, core: opxCoreF, sparse: opxSparseF, note: "(f)", noteY: 1590 }
];

// grey fill of the zoomed-in panels and the wedge that connects them to the top row
[colL, colR].forEach(function (col) {
  var x = d3.scaleLog().domain([10, 10000]).range(col);
  var edge = x(insetLimit);
  svg.append("path").attr("d", `M${col[0]},577L${edge},577L${col[1]},608L${col[0]},608Z`).attr("fill", "#d6d8d8");
  svg.append("line").attr("x1", edge).attr("y1", 577).attr("x2", col[1]).attr("y2", 608)
    .attr("stroke", "#777").attr("stroke-width", 1.5);
});

function mark(g, pts, x, y) {
  g.selectAll(null).data(pts).enter().append("circle")
    .attr("cx", d => x(d[0])).attr("cy", d => y(d[1])).attr("r", 5.8)
    .attr("fill", "#f40000").attr("stroke", "#300404").attr("stroke-width", 1.1);
}

function tri(g, pts, x, y, size, fill, stroke, sw) {
  g.selectAll(null).data(pts).enter().append("path")
    .attr("d", triangle.size(size)())
    .attr("transform", d => `translate(${x(d[0])},${y(d[1])})`)
    .attr("fill", fill).attr("stroke", stroke).attr("stroke-width", sw).attr("stroke-linejoin", "round");
}

function bars(g, m, x, y) {
  m.forEach(function (d) {
    var c = g.append("g").attr("stroke", "#8a8a8a").attr("stroke-width", 1.5);
    if (d[2] !== null) {
      c.append("line").attr("x1", x(d[2])).attr("x2", x(d[3])).attr("y1", y(d[1])).attr("y2", y(d[1]));
      [d[2], d[3]].forEach(v => c.append("line").attr("x1", x(v)).attr("x2", x(v)).attr("y1", y(d[1]) - 5).attr("y2", y(d[1]) + 5));
    }
    if (d[4] !== null) {
      c.append("line").attr("y1", y(d[4])).attr("y2", y(d[5])).attr("x1", x(d[0])).attr("x2", x(d[0]));
      [d[4], d[5]].forEach(v => c.append("line").attr("y1", y(v)).attr("y2", y(v)).attr("x1", x(d[0]) - 5).attr("x2", x(d[0]) + 5));
    }
  });
}

function hideDomain(sel) { sel.select(".domain").remove(); }

panels.forEach(function (p) {
  var rowY = rows[p.row];
  var g = svg.append("g");
  var x = p.log ? d3.scaleLog().domain([10, 10000]).range(p.col) : d3.scaleLinear().domain([0, 70]).range(p.col);
  var yTop = p.sf ? (p.row === 0 ? 8 : 4) : 10;
  var y = d3.scaleLinear().domain([1, yTop]).range([rowY[1], rowY[0]]);

  if (p.log) {
    // inset area of the next two rows
    g.append("rect").attr("x", p.col[0]).attr("width", x(insetLimit) - p.col[0])
      .attr("y", y(p.sf ? 4 : 10)).attr("height", y(1) - y(p.sf ? 4 : 10)).attr("fill", "#d6d8d8");
  } else {
    g.append("rect").attr("x", p.col[0]).attr("width", p.col[1] - p.col[0])
      .attr("y", rowY[0]).attr("height", rowY[1] - rowY[0]).attr("fill", "#d6d8d8");
  }

  mark(g, p.ol, x, y);
  // a navy pass closes the gaps that the thousands of overlapping grains fill in the source
  tri(g, p.core, x, y, 66, "#04044f", "#04044f", 4.5);
  tri(g, p.core, x, y, 66, "#0000c4", "#030330", 1.2);
  tri(g, p.sparse, x, y, 70, "#0000c4", "#030330", 1.1);

  if (p.log) {
    g.append("line").attr("x1", x(porphyroclastLimit)).attr("x2", x(porphyroclastLimit))
      .attr("y1", 127).attr("y2", 577).attr("stroke", "#333").attr("stroke-width", 1.6).attr("stroke-dasharray", "11 6");
  }

  bars(g, olMeans[p.id], x, y);
  bars(g, opxMeans[p.id], x, y);
  g.selectAll(null).data(olMeans[p.id]).enter().append("circle")
    .attr("cx", d => x(d[0])).attr("cy", d => y(d[1])).attr("r", 10)
    .attr("fill", "#fff").attr("stroke", "#8f8f8f").attr("stroke-width", 2);
  tri(g, opxMeans[p.id], x, y, 175, "#fff", "#8f8f8f", 2);

  // frame
  [[p.col[0], rowY[0], p.col[0], rowY[1]], [p.col[1], rowY[0], p.col[1], rowY[1]], [p.col[0], rowY[0], p.col[1], rowY[0]], [p.col[0], rowY[1], p.col[1], rowY[1]]]
    .forEach(function (l) {
      g.append("line").attr("class", "axisLine").attr("x1", l[0]).attr("y1", l[1]).attr("x2", l[2]).attr("y2", l[3]);
    });

  // x axes
  var major = p.log ? logMajor : linMajor, minor = p.log ? logMinor : linMinor;
  var mkX = function (gen, yPos, vals, size) {
    g.append("g").attr("transform", `translate(0,${yPos})`)
      .call(gen(x).tickValues(vals).tickSize(size).tickFormat(""))
      .call(hideDomain);
  };
  mkX(d3.axisTop, rowY[0], minor, 4);
  mkX(d3.axisTop, rowY[0], major, 8);
  mkX(d3.axisBottom, rowY[1], minor, 5);
  mkX(d3.axisBottom, rowY[1], major, 8);

  // y axes
  var step = p.sf ? (p.row === 0 ? 0.2 : 0.1) : 0.4;
  var yMinor = d3.range(1 + (p.sf ? 0 : 0.2), yTop + 0.001, step);
  var yMajor = p.sf ? (p.row === 0 ? d3.range(1, 8.01, 1) : d3.range(1, 4.01, 0.5)) : [2, 4, 6, 8, 10];
  var isLeft = p.col === colL;
  var xPos = isLeft ? p.col[0] : p.col[1];
  var gen = isLeft ? d3.axisLeft : d3.axisRight;
  var other = isLeft ? d3.axisRight : d3.axisLeft;
  var otherX = isLeft ? p.col[1] : p.col[0];

  g.append("g").attr("transform", `translate(${otherX},0)`)
    .call(other(y).tickValues(yMinor).tickSize(4).tickFormat("")).call(hideDomain);
  g.append("g").attr("transform", `translate(${otherX},0)`)
    .call(other(y).tickValues(yMajor).tickSize(7).tickFormat("")).call(hideDomain);
  g.append("g").attr("transform", `translate(${xPos},0)`)
    .call(gen(y).tickValues(yMinor).tickSize(4).tickFormat("")).call(hideDomain);
  var lab = g.append("g").attr("transform", `translate(${xPos},0)`)
    .call(gen(y).tickValues(yMajor).tickSize(7).tickPadding(isLeft ? 5 : 6)
      .tickFormat(p.sf ? d3.format(".1f") : d3.format("d"))).call(hideDomain);
  // top and bottom labels sit off their ticks, clear of the neighbouring panels
  var topNudge = [7, 3, 10][p.row], botNudge = [-5, -9, 0][p.row];
  lab.selectAll("text")
    .attr("textLength", function () { var n = this.textContent.length; return n === 3 ? 31 : (n === 2 ? 24 : 12.5); })
    .attr("lengthAdjust", "spacingAndGlyphs")
    .attr("transform", d => d === yTop ? `translate(0,${topNudge})` : (d === 1 ? `translate(0,${botNudge})` : null));

  // panel letter
  svg.append("text").attr("class", "note bold").attr("x", p.col[1] - 5).attr("y", p.noteY)
    .attr("text-anchor", "end").attr("font-size", 31).attr("textLength", 39).attr("lengthAdjust", "spacingAndGlyphs")
    .style("fill", "#444").text(p.note);
});

// top log labels, base and exponent as separate texts
var dxLeft = [-7, -11, -13, -18], dxRight = [-2, -9, -8, -9];
[[colL, dxLeft], [colR, dxRight]].forEach(function (c) {
  var x = d3.scaleLog().domain([10, 10000]).range(c[0]);
  logMajor.forEach(function (v, i) {
    svg.append("text").attr("x", x(v) + c[1][i]).attr("y", 74).attr("font-size", 26)
      .attr("textLength", 24).attr("lengthAdjust", "spacingAndGlyphs").text("10");
    svg.append("text").attr("x", x(v) + c[1][i] + 24.5).attr("y", 63).attr("font-size", 12).text(i + 1);
  });
  [35, 1662].forEach(function (yy) {
    svg.append("text").attr("class", "bold").attr("x", c[0] === colL ? 347 : 862).attr("y", yy)
      .attr("text-anchor", "middle").attr("font-size", 31).attr("textLength", 380).attr("lengthAdjust", "spacingAndGlyphs")
      .text("Equivalent diameter [µm]");
  });
  var x0 = d3.scaleLinear().domain([0, 70]).range(c[0]);
  linMajor.forEach(function (v) {
    svg.append("text").attr("x", x0(v) + 2).attr("y", 1630).attr("text-anchor", "middle").attr("font-size", 25)
      .attr("textLength", v === 0 ? 12.5 : 24).attr("lengthAdjust", "spacingAndGlyphs").text(v);
  });
});

// dark title bands
bands.forEach(function (b, i) {
  svg.append("rect").attr("x", colL[0]).attr("width", colR[1] - colL[0]).attr("y", b[0]).attr("height", b[1] - b[0])
    .attr("fill", "#2b2a29");
  svg.append("text").attr("class", "bold").attr("x", 605).attr("y", b[0] + 27).attr("text-anchor", "middle")
    .attr("font-size", 26).attr("textLength", i === 0 ? 500 : 478).attr("lengthAdjust", "spacingAndGlyphs")
    .style("fill", "#fff").text(bandTitles[i]);
});

// rotated axis titles
var rowCenters = [332, 853, 1354];
rowCenters.forEach(function (cy) {
  svg.append("text").attr("class", "bold").attr("transform", `translate(36,${cy}) rotate(-90)`)
    .attr("text-anchor", "middle").attr("font-size", 31).attr("textLength", 199).attr("lengthAdjust", "spacingAndGlyphs")
    .text("Shape Factor");
  svg.append("text").attr("class", "bold").attr("transform", `translate(1162,${cy}) rotate(90)`)
    .attr("text-anchor", "middle").attr("font-size", 31).attr("textLength", 195).attr("lengthAdjust", "spacingAndGlyphs")
    .text("Aspect Ratio");
});

// annotations in the top row
[[colL, 258, 447], [colR, 773, 964]].forEach(function (c) {
  var x = d3.scaleLog().domain([10, 10000]).range(c[0]);
  svg.append("text").attr("class", "bold").attr("x", c[1]).attr("y", 180).attr("text-anchor", "middle").attr("font-size", 24)
    .attr("textLength", 200).attr("lengthAdjust", "spacingAndGlyphs").text("fine-grained minerals");
  svg.append("text").attr("class", "bold").attr("x", c[2]).attr("y", 180).attr("text-anchor", "middle").attr("font-size", 24)
    .attr("textLength", 143).attr("lengthAdjust", "spacingAndGlyphs").text("porphyroclasts");
  var a = x(porphyroclastLimit) - 87, b = x(porphyroclastLimit) + 87;
  svg.append("line").attr("x1", a + 6).attr("x2", b - 6).attr("y1", 192).attr("y2", 192).attr("stroke", "#333").attr("stroke-width", 1.8);
  svg.append("path").attr("d", `M${a},192l13,-5v10Z M${b},192l-13,-5v10Z`).attr("fill", "#333");
});
svg.append("text").attr("class", "bold").attr("x", 115).attr("y", 402).attr("font-size", 28)
  .attr("textLength", 55).attr("lengthAdjust", "spacingAndGlyphs").style("fill", "#444").text("(b-c)");
svg.append("text").attr("class", "bold").attr("x", 630).attr("y", 264).attr("font-size", 28)
  .attr("textLength", 50).attr("lengthAdjust", "spacingAndGlyphs").style("fill", "#444").text("(e-f)");

// legend
var lg = svg.append("g");
lg.append("rect").attr("x", 787).attr("y", 1157).attr("width", 313).attr("height", 144)
  .attr("fill", "#fff").attr("stroke", "#333").attr("stroke-width", 3.5);
lg.append("text").attr("class", "bold").attr("x", 795).attr("y", 1178).attr("font-size", 24)
  .attr("text-decoration", "underline").attr("textLength", 84).attr("lengthAdjust", "spacingAndGlyphs").text("Legend:");
var legendBase = [1212, 1237, 1262, 1290], legendLen = [73, 157, 252, 272];
legendItems.forEach(function (t, i) {
  lg.append("text").attr("class", "bold").attr("x", 822).attr("y", legendBase[i]).attr("font-size", 24)
    .attr("textLength", legendLen[i]).attr("lengthAdjust", "spacingAndGlyphs").text(t);
});
lg.append("circle").attr("cx", 805).attr("cy", 1204).attr("r", 6).attr("fill", "#f40000").attr("stroke", "#300404");
lg.append("path").attr("d", triangle.size(70)()).attr("transform", "translate(805,1229)").attr("fill", "#0000c4").attr("stroke", "#030330");
lg.append("circle").attr("cx", 805).attr("cy", 1255).attr("r", 10.5).attr("fill", "#fff").attr("stroke", "#8f8f8f").attr("stroke-width", 2);
lg.append("path").attr("d", triangle.size(175)()).attr("transform", "translate(805,1283)").attr("fill", "#fff").attr("stroke", "#8f8f8f").attr("stroke-width", 2);
</script>
</body>
</html>
